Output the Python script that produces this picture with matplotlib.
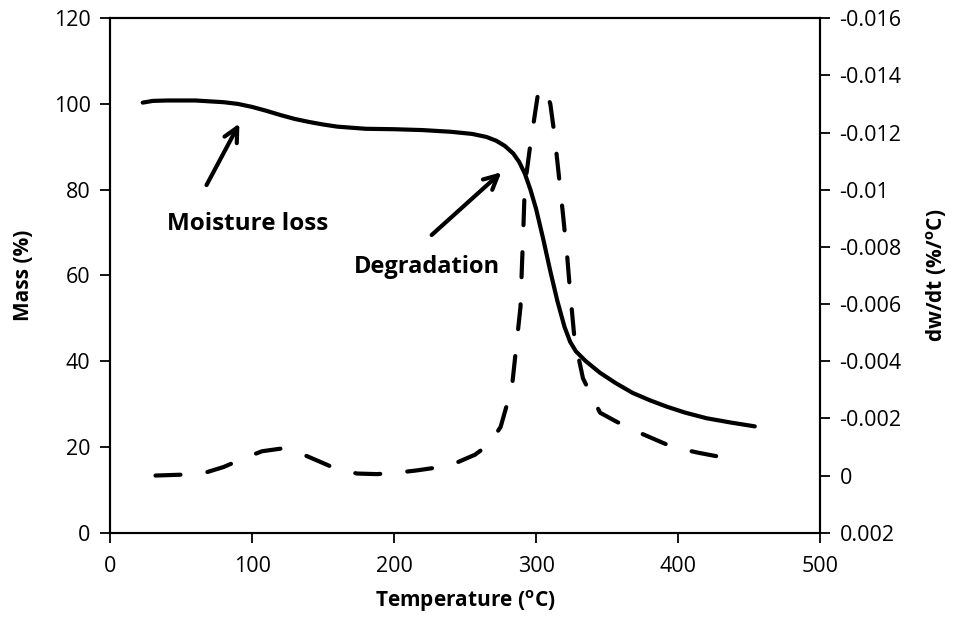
import matplotlib.pyplot as plt

# Curva de massa (TGA)
temp_massa = [23, 30, 40, 60, 80, 90, 100, 110, 120, 130, 140, 150, 160, 180, 200, 220, 240,
              255, 265, 272, 278, 284, 288, 292, 296, 300, 305, 310, 315, 320, 324, 328,
              335, 345, 356, 368, 380, 392, 405, 420, 437, 454]
massa = [100.3, 100.7, 100.8, 100.8, 100.4, 100.0, 99.3, 98.4, 97.4, 96.5, 95.8, 95.2, 94.7,
         94.2, 94.1, 93.9, 93.5, 93.0, 92.3, 91.4, 90.2, 88.4, 86.5, 83.8, 80.0, 75.5, 68.5,
         61.0, 54.0, 48.0, 44.5, 42.3, 40.0, 37.3, 34.9, 32.6, 30.9, 29.4, 28.0, 26.7, 25.7,
         24.8]

# Curva da derivada (DTG)
temp_dtg = [32, 50, 67, 80, 94, 107, 120, 133, 147, 160, 174, 188, 202, 216, 230, 244, 257,
            267, 275, 279, 283, 286, 289, 290, 291, 292, 296, 301, 306, 310, 313, 316, 319,
            322, 324, 327, 333, 345, 356, 368, 382, 396, 414, 432]
dtg = [0.0, -0.00003, -0.0001, -0.0003, -0.0006, -0.00085, -0.00094, -0.0008, -0.0005,
       -0.00022, -0.00007, -0.00005, -0.0001, -0.00018, -0.00028, -0.00045, -0.00073,
       -0.0011, -0.0017, -0.0024, -0.0031, -0.0045, -0.0059, -0.0073, -0.0086, -0.0101,
       -0.0116, -0.01325, -0.01357, -0.013, -0.0119, -0.0105, -0.0091, -0.0076, -0.0064,
       -0.0048, -0.0034, -0.0022, -0.0019, -0.0016, -0.0013, -0.001, -0.0008, -0.00063]

ticks_x = [0, 100, 200, 300, 400, 500]
ticks_massa = [0, 20, 40, 60, 80, 100, 120]
ticks_dtg = [0.002, 0, -0.002, -0.004, -0.006, -0.008, -0.01, -0.012, -0.014, -0.016]
rotulos_dtg = ['0.002', '0', '-0.002', '-0.004', '-0.006', '-0.008', '-0.01', '-0.012',
               '-0.014', '-0.016']

plt.rcParams['font.family'] = ['Open Sans', 'DejaVu Sans']

fig = plt.figure(figsize=(9.57, 6.26), dpi=100)
ax = fig.add_axes([0.115, 0.149, 0.742, 0.822])
ax2 = ax.twinx()

ax.plot(temp_massa, massa, color='black', lw=3, solid_capstyle='round',
        solid_joinstyle='round')
ax2.plot(temp_dtg, dtg, color='black', lw=3, dashes=(6, 6.5), dash_capstyle='round',
         dash_joinstyle='round')

ax.set_xlim(0, 500)
ax.set_ylim(0, 120)
ax2.set_ylim(0.002, -0.016)

ax.set_xticks(ticks_x)
ax.set_yticks(ticks_massa)
ax2.set_yticks(ticks_dtg)
ax2.set_yticklabels(rotulos_dtg)

for a in (ax, ax2):
    a.tick_params(direction='out', length=7, width=1.3, labelsize=15.5, color='black', pad=7)
    for s in a.spines.values():
        s.set_linewidth(1.5)
ax.tick_params(axis='x', pad=10)

ax.set_xlabel('Temperature ($^{\\mathregular{o}}$C)', fontsize=15, fontweight='bold',
              labelpad=8)
ax.set_ylabel('Mass (%)', fontsize=15, fontweight='bold', labelpad=14)
ax2.set_ylabel('dw/dt (%/$^{\\mathregular{o}}$C)', fontsize=15, fontweight='bold',
               labelpad=16)

# Anotações com setas
ax.annotate('', xy=(92, 96), xytext=(67, 80.5),
            arrowprops=dict(arrowstyle='->', lw=3, color='black', mutation_scale=25))
ax.text(97, 72, 'Moisture loss', fontsize=17.5, fontweight='bold', ha='center', va='center')
ax.annotate('', xy=(277, 84.5), xytext=(225, 69),
            arrowprops=dict(arrowstyle='->', lw=3, color='black', mutation_scale=25))
ax.text(223, 62, 'Degradation', fontsize=17, fontweight='bold', ha='center', va='center')

fig.savefig('out.png', dpi=100)
